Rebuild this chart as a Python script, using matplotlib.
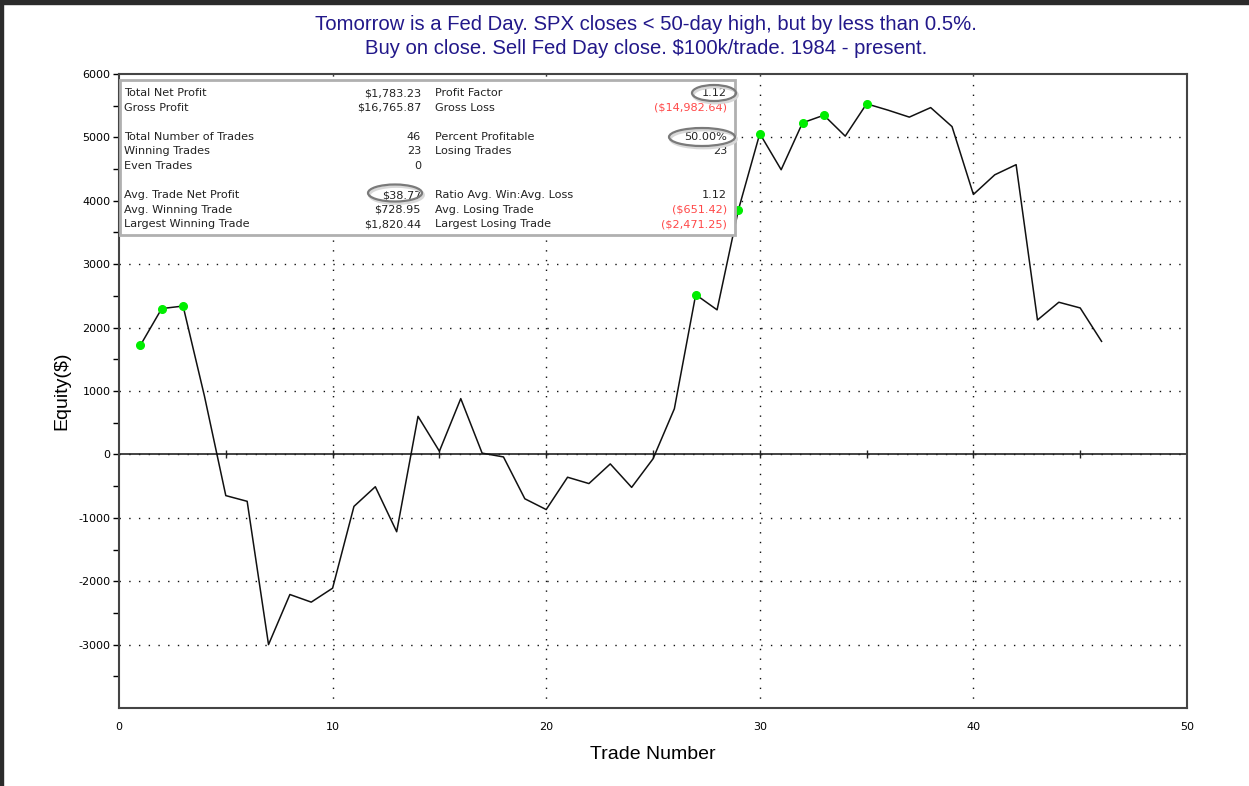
import numpy as np
import matplotlib
matplotlib.use('Agg')
import matplotlib.pyplot as plt
from matplotlib.patches import Rectangle, Ellipse

plt.rcParams['axes.unicode_minus'] = False

# equity after each trade, $
trades = list(range(1, 47))
equity = [1720, 2300, 2340, 920, -650, -740, -3000, -2210, -2330, -2110,
          -820, -510, -1220, 600, 50, 880, 20, -40, -700, -870,
          -360, -460, -150, -520, -70, 720, 2520, 2280, 3860, 5060,
          4490, 5230, 5350, 5020, 5530, 5430, 5320, 5470, 5170, 4100,
          4410, 4570, 2120, 2400, 2310, 1783]

title_lines = ["Tomorrow is a Fed Day. SPX closes < 50-day high, but by less than 0.5%.",
               "Buy on close. Sell Fed Day close. $100k/trade. 1984 - present."]

stats_left = [("Total Net Profit", "$1,783.23"), ("Gross Profit", "$16,765.87"), None,
              ("Total Number of Trades", "46"), ("Winning Trades", "23"), ("Even Trades", "0"), None,
              ("Avg. Trade Net Profit", "$38.77"), ("Avg. Winning Trade", "$728.95"),
              ("Largest Winning Trade", "$1,820.44")]
stats_right = [("Profit Factor", "1.12"), ("Gross Loss", "($14,982.64)"), None,
               ("Percent Profitable", "50.00%"), ("Losing Trades", "23"), None, None,
               ("Ratio Avg. Win:Avg. Loss", "1.12"), ("Avg. Losing Trade", "($651.42)"),
               ("Largest Losing Trade", "($2,471.25)")]

W, H = 1249, 786
fig = plt.figure(figsize=(W / 100, H / 100), dpi=100)
fig.patch.set_facecolor('white')

ax = fig.add_axes([119 / W, 1 - 708 / H, (1187 - 119) / W, (708 - 74) / H])
ax.set_xlim(0, 50)
ax.set_ylim(-4000, 6000)

eq = np.array(equity)
prev_max = np.concatenate([[-np.inf], np.maximum.accumulate(eq)[:-1]])
highs = eq > prev_max  # new equity highs get a green dot

ax.axhline(0, color='#222222', lw=1.2, zorder=2)
ax.plot(range(5, 50, 5), [0] * 9, ls='none', marker='|', ms=6, color='#222222', zorder=2)
ax.plot(trades, equity, color='#111111', lw=1.1, zorder=3)
ax.plot(np.array(trades)[highs], eq[highs], ls='none', marker='o', ms=5.5,
        color='#00ee00', mec='#00ee00', zorder=4)

for yv in range(-3000, 6000, 1000):
    ax.axhline(yv, color='#111111', lw=1, ls=(0, (1, 6)), zorder=1)
for xv in range(10, 50, 10):
    ax.axvline(xv, color='#111111', lw=1, ls=(0, (1, 6)), zorder=1)

ax.set_xticks(range(0, 51, 10))
ax.set_yticks(range(-3000, 6001, 1000))
ax.set_yticks(range(-3500, 6000, 500), minor=True)
ax.tick_params(axis='x', length=0, pad=10, labelsize=8)
ax.tick_params(axis='y', which='both', direction='out', length=4, width=1, labelsize=8, pad=2)
for sp in ax.spines.values():
    sp.set_color('#444444')
    sp.set_linewidth(1.5)
ax.set_xlabel("Trade Number", fontsize=14, labelpad=10, family='Liberation Sans')
ax.set_ylabel("Equity($)", fontsize=14, labelpad=6, family='Liberation Sans')

# overlay in pixel coordinates for title, stats box and window border
ov = fig.add_axes([0, 0, 1, 1], facecolor='none')
ov.set_xlim(0, W)
ov.set_ylim(H, 0)
ov.axis('off')

ov.add_patch(Rectangle((0, 0), W, 4, color='#2b2b2b', zorder=10))
ov.add_patch(Rectangle((0, 0), 3, H, color='#2b2b2b', zorder=10))

ov.text(646, 24, title_lines[0], ha='center', va='center', fontsize=14.6,
        color='#22188a', family='Liberation Sans')
ov.text(646, 49, title_lines[1], ha='center', va='center', fontsize=14.6,
        color='#22188a', family='Liberation Sans')

ov.add_patch(Rectangle((120, 80), 615, 155, facecolor='white', edgecolor='#b0b0b0',
                       lw=2, zorder=5))
red = '#ff4848'
fs = 8.1
row_y = 93
for left, right in zip(stats_left, stats_right):
    if left:
        ov.text(124, row_y, left[0], fontsize=fs, color='#222222', va='center', zorder=6)
        ov.text(421, row_y, left[1], fontsize=fs, color='#222222', va='center', ha='right', zorder=6)
    if right:
        ov.text(435, row_y, right[0], fontsize=fs, color='#222222', va='center', zorder=6)
        c = red if right[1].startswith('(') else '#222222'
        ov.text(727, row_y, right[1], fontsize=fs, color=c, va='center', ha='right', zorder=6)
    row_y += 14.6

for cx, cy, w, h in [(714, 93, 44, 16), (702, 137, 66, 18), (395, 193, 54, 17)]:
    ov.add_patch(Ellipse((cx + 1.5, cy + 2), w, h, facecolor='none', edgecolor='#d8d8d8', lw=2, zorder=6))
    ov.add_patch(Ellipse((cx, cy), w, h, facecolor='none', edgecolor='#7a7a7a', lw=1.6, zorder=7))

fig.savefig('out.png', dpi=100)
